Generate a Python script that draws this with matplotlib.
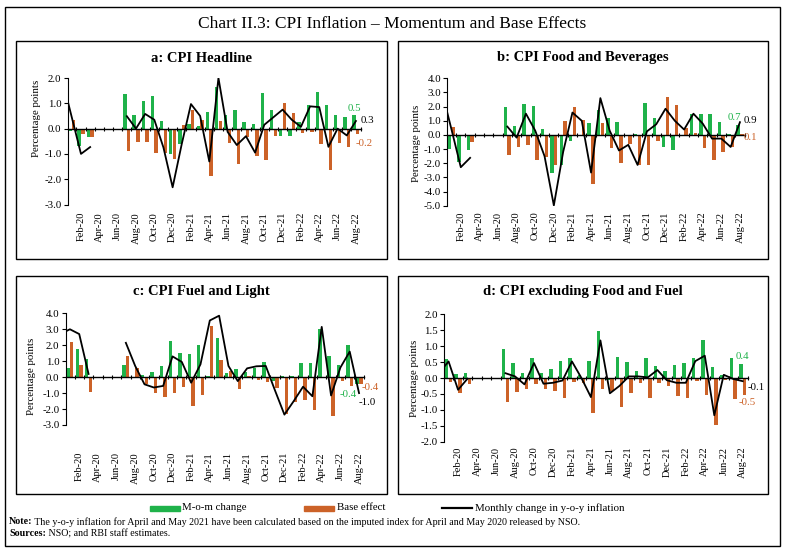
import numpy as np
import pandas as pd
import matplotlib
matplotlib.use("Agg")
import matplotlib.pyplot as plt
from matplotlib.patches import Rectangle
from matplotlib.lines import Line2D
from matplotlib.ticker import FormatStrFormatter

plt.rcParams['font.family'] = ['Liberation Serif', 'DejaVu Serif']
plt.rcParams['axes.unicode_minus'] = False

W, H = 786, 552
nan = np.nan
GREEN = '#1FB24A'
ORANGE = '#CC6228'

# Dec-19 .. Aug-22 (Dec-19 only feeds the clipped start of the line)
months = pd.date_range('2019-12-01', '2022-08-01', freq='MS').strftime('%b-%y').tolist()

#            Dec19 | Jan20  Feb20  Mar20 | Apr  May  Jun20 | Jul20 Aug   Sep   Oct   Nov   Dec20 | Jan21 Feb  Mar   Apr   May   Jun   Jul   Aug   Sep   Oct   Nov   Dec21 | Jan22 Feb  Mar   Apr   May   Jun   Jul   Aug22
mom_a = [nan, -0.10, -0.70, -0.35, nan, nan, nan, 1.38, 0.52, 1.10, 1.27, 0.30, -1.00, -0.60, 0.20, 0.12, 0.65, 1.65, 0.55, 0.74, 0.25, 0.17, 1.40, 0.73, -0.28, -0.28, 0.25, 0.95, 1.43, 0.94, 0.53, 0.47, 0.52]
base_a = [nan, 0.35, -0.22, -0.35, nan, nan, nan, -0.88, -0.53, -0.53, -0.95, -0.95, -1.20, 0.13, 0.72, 0.33, -1.86, 0.32, -0.58, -1.39, -0.35, -1.08, -1.26, -0.30, 1.00, 0.62, -0.18, -0.12, -0.60, -1.62, -0.55, -0.72, -0.22]
yoy_a = [1.89, 0.44, -1.00, -0.73, nan, nan, nan, 0.49, 0.00, 0.58, 0.35, -0.75, -2.32, -0.60, 0.97, 0.50, -1.30, 2.00, -0.13, -0.65, -0.30, -0.95, 0.15, 0.45, 0.75, 0.35, 0.07, 0.88, 0.85, -0.72, 0.00, -0.27, 0.30]

mom_b = [nan, -0.98, -1.93, -1.10, nan, nan, nan, 1.95, 0.62, 2.17, 2.02, 0.42, -2.66, -2.16, -0.45, -0.10, 0.82, 1.75, 1.18, 0.90, -0.10, 0.05, 2.23, 1.18, -0.87, -1.10, -0.10, 1.46, 1.46, 1.46, 0.90, 0.07, 0.70]
base_b = [nan, 0.55, -0.10, -0.48, nan, nan, nan, -1.45, -0.87, -0.72, -1.80, -1.55, -2.10, 0.98, 1.95, 1.05, -3.45, 0.82, -0.90, -1.95, -0.65, -2.12, -2.10, -0.45, 2.65, 2.10, 0.50, 0.14, -0.90, -1.76, -1.18, -0.87, 0.10]
yoy_b = [3.00, 0.39, -2.28, -1.62, nan, nan, nan, 0.59, -0.19, 1.50, 0.30, -1.50, -4.98, -1.20, 1.58, 1.00, -2.66, 2.60, 0.30, -1.10, -0.70, -2.12, 0.25, 0.75, 1.85, 1.00, 0.38, 1.50, 0.80, -0.26, -0.26, -0.85, 0.90]

mom_c = [nan, 0.60, 1.79, 1.15, nan, nan, nan, 0.75, -0.04, 0.12, 0.33, 0.67, 2.27, 1.52, 1.44, 2.02, 0.05, 2.46, 0.25, 0.54, 0.35, 0.60, 0.95, -0.25, 0.10, 0.05, 0.90, 0.90, 3.00, 1.35, 0.75, 2.00, -0.40]
base_c = [nan, 2.20, 0.75, -0.95, nan, nan, nan, 1.35, 0.55, -0.42, -1.00, -1.22, -0.97, -0.62, -1.80, -1.15, 3.20, 1.08, 0.40, -0.75, 0.05, -0.15, -0.33, -0.70, -2.30, -1.55, -1.45, -2.05, -0.05, -2.45, -0.25, -0.55, -0.40]
yoy_c = [2.70, 3.00, 2.70, 0.20, nan, nan, nan, 2.15, 0.70, -0.45, -0.65, -0.55, 1.30, 0.95, -0.35, 0.80, 3.55, 3.85, 0.70, -0.25, 0.55, 0.68, 0.70, -0.85, -2.35, -1.50, -0.60, -1.20, 3.15, -1.15, 0.60, 1.60, -1.00]

mom_d = [nan, 0.60, 0.13, 0.17, nan, nan, nan, 0.90, 0.48, 0.17, 0.62, 0.15, 0.27, 0.53, 0.62, 0.10, 0.53, 1.47, -0.05, 0.65, 0.50, 0.22, 0.63, 0.38, 0.22, 0.40, 0.48, 0.62, 1.20, 0.35, 0.08, 0.62, 0.44]
base_d = [nan, -0.12, -0.48, -0.20, nan, nan, nan, -0.75, -0.45, -0.35, -0.18, -0.33, -0.40, -0.62, -0.13, -0.15, -1.10, -0.33, -0.42, -0.90, -0.48, -0.17, -0.62, -0.15, -0.25, -0.55, -0.63, -0.10, -0.53, -1.47, -0.05, -0.65, -0.52]
yoy_d = [0.16, 0.52, -0.37, -0.02, nan, nan, nan, 0.15, 0.05, -0.20, 0.47, -0.18, -0.15, -0.08, 0.52, 0.00, -0.60, 1.18, -0.48, -0.25, 0.05, 0.05, 0.02, 0.25, -0.07, -0.15, -0.15, 0.53, 0.70, -1.17, 0.10, -0.03, -0.10]

fig = plt.figure(figsize=(W / 100, H / 100), dpi=100)


def px_rect(left, top, right, bottom):
    return [left / W, 1 - bottom / H, (right - left) / W, (bottom - top) / H]


def box(left, top, right, bottom, lw=1.0):
    fig.patches.append(Rectangle((left / W, 1 - bottom / H), (right - left) / W, (bottom - top) / H,
                                 transform=fig.transFigure, fill=False, lw=lw, ec='black'))


def panel(rect, frame, title, title_y, ylab_xy, mom, base, yoy, ylim, ystep, pad, notes):
    ax = fig.add_axes(px_rect(*rect))
    x = np.arange(len(months))
    ax.bar(x - 0.2, mom, width=0.37, color=GREEN, zorder=2)
    ax.bar(x + 0.2, base, width=0.37, color=ORANGE, zorder=2)
    ax.plot(x, yoy, color='black', lw=1.3, zorder=3)
    ax.set_xlim(0.55, len(months) - 0.5)
    ax.set_ylim(*ylim)

    # category axis sits at zero with tick marks between months
    ax.spines['bottom'].set_position(('data', 0))
    ax.spines['bottom'].set_linewidth(1.0)
    ax.spines['top'].set_visible(False)
    ax.spines['right'].set_visible(False)
    ax.spines['left'].set_linewidth(0.8)
    ax.set_xticks(np.arange(1.5, len(months), 1))
    ax.tick_params(axis='x', direction='inout', length=3.5, width=0.8, labelbottom=False)

    ax.set_yticks(np.arange(ylim[0], ylim[1] + 0.01, ystep))
    ax.yaxis.set_major_formatter(FormatStrFormatter('%.1f'))
    ax.tick_params(axis='y', direction='out', length=3, width=0.8, labelsize=7.8, pad=1.5)

    lab = ax.secondary_xaxis('bottom')
    pos = np.arange(2, len(months), 2)
    lab.set_xticks(pos, [months[i] for i in pos])
    lab.tick_params(length=0, pad=pad, labelsize=7.5, labelrotation=90)
    lab.spines['bottom'].set_visible(False)

    for txt, val, col, dx, dy in notes:
        ax.annotate(txt, xy=(len(months) - 1, val), xytext=(dx, dy), textcoords='offset pixels',
                    ha='center', va='center', color=col, fontsize=7.8, annotation_clip=False)

    box(*frame)
    fig.text((frame[0] + frame[2]) / 2 / W, 1 - title_y / H, title, ha='center', va='center',
             fontsize=10.5, fontweight='bold')
    fig.text(ylab_xy[0] / W, 1 - ylab_xy[1] / H, 'Percentage points', rotation=90,
             ha='center', va='center', fontsize=7.8)
    return ax


panel((67.7, 78, 360.5, 204.5), (16, 41, 387, 259), 'a: CPI Headline', 58, (36.7, 118),
      mom_a, base_a, yoy_a, (-3, 2), 1.0, 5.4,
      [('0.5', mom_a[-1], GREEN, -2, 7), ('0.3', yoy_a[-1], 'black', 12, 1), ('-0.2', base_a[-1], ORANGE, 8, -9)])
panel((447.3, 78.3, 744.6, 205.7), (398, 41, 768, 259), 'b: CPI Food and Beverages', 58, (416.7, 143),
      mom_b, base_b, yoy_b, (-5, 4), 1.0, 4.3,
      [('0.7', mom_b[-1], GREEN, -6, 8), ('0.9', yoy_b[-1], 'black', 10, 2), ('0.1', base_b[-1], ORANGE, 10, -4)])
panel((65.7, 313.3, 363.7, 425), (16, 276, 387, 494), 'c: CPI Fuel and Light', 291.5, (31.7, 376.7),
      mom_c, base_c, yoy_c, (-3, 4), 1.0, 19.4,
      [('-0.4', mom_c[-1], GREEN, -11, -11), ('-0.4', base_c[-1], ORANGE, 11, -4), ('-1.0', yoy_c[-1], 'black', 8, -9)])
panel((444.3, 314.3, 747.5, 441.7), (398, 276, 768, 494), 'd: CPI excluding Food and Fuel', 291.5, (414.3, 378),
      mom_d, base_d, yoy_d, (-2, 2), 0.5, 3.6,
      [('0.4', mom_d[-1], GREEN, 0, 7), ('-0.1', yoy_d[-1], 'black', 13, -6), ('-0.5', base_d[-1], ORANGE, 4, -8)])

# outer frame and chart title
box(5, 7, 780, 546)
fig.text(392 / W, 1 - 24 / H, 'Chart II.3: CPI Inflation \u2013 Momentum and Base Effects',
         ha='center', va='center', fontsize=12.5)

# legend
ly = 1 - 508 / H
fig.patches.append(Rectangle((150 / W, ly - 2.5 / H), 30 / W, 5 / H, transform=fig.transFigure,
                             color=GREEN))
fig.text(182 / W, ly, 'M-o-m change', va='center', fontsize=7.8)
fig.patches.append(Rectangle((304 / W, ly - 2.5 / H), 30 / W, 5 / H, transform=fig.transFigure,
                             color=ORANGE))
fig.text(337 / W, ly, 'Base effect', va='center', fontsize=7.8)
fig.lines.append(Line2D([442 / W, 472 / W], [ly, ly], transform=fig.transFigure, color='black', lw=1.6))
fig.text(475 / W, ly, 'Monthly change in y-o-y inflation', va='center', fontsize=7.8)

# note and sources
renderer = fig.canvas.get_renderer()
for y, head, body in [(522, 'Note:', ' The y-o-y inflation for April and May 2021 have been calculated based on '
                                     'the imputed index for April and May 2020 released by NSO.'),
                      (534, 'Sources:', ' NSO; and RBI staff estimates.')]:
    t = fig.text(9 / W, 1 - y / H, head, va='center', fontsize=7.2, fontweight='bold')
    ext = t.get_window_extent(renderer)
    fig.text(ext.x1 / W, 1 - y / H, body, va='center', fontsize=7.2)

fig.savefig('out.png', dpi=100)
